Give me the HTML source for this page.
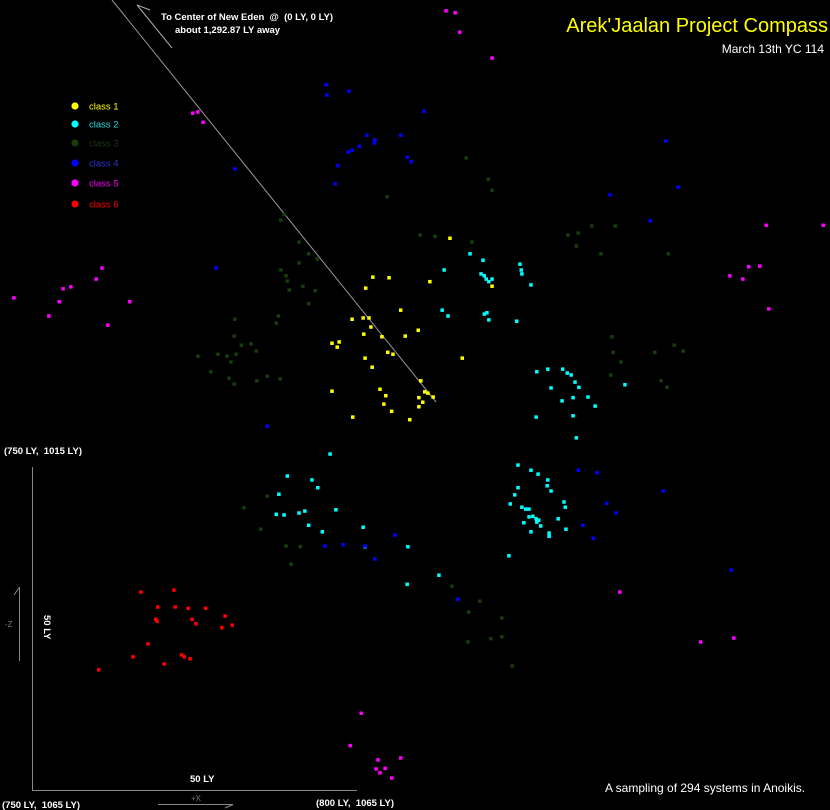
<!DOCTYPE html>
<html><head><meta charset="utf-8">
<style>
html,body{margin:0;padding:0;background:#000;}
svg{display:block;}
text{font-family:"Liberation Sans",sans-serif;white-space:pre;}
</style></head>
<body>
<svg id="chart" width="830" height="810" viewBox="0 0 830 810" xmlns="http://www.w3.org/2000/svg">
<rect x="0" y="0" width="830" height="810" fill="#000"/>
<line x1="112" y1="0" x2="436" y2="402" stroke="#9a9a9a" stroke-width="1"/>
<g stroke="#aaa" stroke-width="1" fill="none">
<line x1="137" y1="5" x2="172" y2="48"/><line x1="137" y1="5" x2="150" y2="10"/>
</g>
<text x="161" y="20" fill="#fff" font-size="9.5" font-weight="bold">To Center of New Eden  @  (0 LY, 0 LY)</text>
<text x="175" y="33" fill="#fff" font-size="9.5" font-weight="bold">about 1,292.87 LY away</text>
<text x="828" y="32" text-anchor="end" fill="#ffff00" font-size="20">Arek'Jaalan Project Compass</text>
<text x="824" y="53" text-anchor="end" fill="#fff" font-size="12">March 13th YC 114</text>
<g id="legend"></g>
<g stroke="#888" stroke-width="1">
<line x1="32.5" y1="467" x2="32.5" y2="790"/><line x1="32" y1="790.5" x2="357" y2="790.5"/>
<line x1="19.5" y1="587" x2="19.5" y2="661"/><line x1="14" y1="595" x2="19.5" y2="587"/>
<line x1="158" y1="804.5" x2="233" y2="804.5"/><line x1="225" y1="808" x2="233" y2="804.5"/>
</g>
<text x="4" y="454" fill="#fff" font-size="9.5" font-weight="bold">(750 LY,  1015 LY)</text>
<text x="2" y="808" fill="#fff" font-size="9.5" font-weight="bold">(750 LY,  1065 LY)</text>
<text x="316" y="806" fill="#fff" font-size="9.5" font-weight="bold">(800 LY,  1065 LY)</text>
<text x="190" y="782" fill="#fff" font-size="9.5" font-weight="bold">50 LY</text>
<text x="0" y="0" fill="#fff" font-size="9.5" font-weight="bold" transform="translate(44,615) rotate(90)">50 LY</text>
<text x="5" y="627" fill="#777" font-size="8">-Z</text>
<text x="191" y="801" fill="#777" font-size="8">+X</text>
<text x="605" y="792" fill="#fff" font-size="12">A sampling of 294 systems in Anoikis.</text>
<g id="points"></g>
</svg>
<script>
// Systems: x coordinate (LY) and z coordinate (LY) per wormhole class
const c1x=[802.6,805.1,801.5,806.9,799.4,801.1,802.0,802.3,801.2,797.4,796.3,797.1,804.0,807.6,809.6,804.9,805.7,801.4,802.5,796.3,803.7,804.6,804.3,805.5,799.5,808.3,809.7,810.6,814.5,811.4,821.0,816.4,810.0,811.1,811.9,810.3,809.7];
const c1z=[985.7,985.8,987.4,990.8,992.2,992.0,992.0,993.4,994.5,995.7,995.9,996.5,994.9,994.8,993.9,997.3,997.6,998.2,999.6,1003.3,1003.0,1004.0,1005.3,1006.4,1007.3,1007.7,1004.3,1003.4,979.7,986.4,987.1,998.2,1001.7,1003.6,1004.2,1005.0,1005.7];
const c2x=[817.6,819.6,813.6,819.3,819.8,820.1,821.0,820.5,825.3,825.5,825.6,827.0,813.3,814.2,819.8,820.2,820.5,824.8,827.9,829.6,831.9,832.6,833.2,833.8,834.4,830.1,831.8,833.5,835.8,833.5,836.9,827.8,841.5,834.0,825.0,827.0,825.0,824.5,823.8,825.6,826.2,826.7,828.1,829.6,829.5,830.1,832.1,832.3,826.7,827.3,827.8,828.2,827.9,831.2,825.9,828.5,829.8,827.0,832.4,829.8,823.6,812.8,796.0,789.4,788.1,793.2,794.1,787.7,788.9,791.2,792.1,796.9,792.7,794.8,801.1,801.4,808.0,807.9];
const c2z=[982.1,983.1,984.6,985.2,985.5,986.0,986.0,986.4,983.7,984.6,985.2,986.9,990.8,991.7,991.4,991.2,992.3,992.5,1000.3,999.9,999.9,1000.5,1000.8,1001.9,1002.7,1002.8,1004.8,1004.3,1004.2,1007.1,1005.6,1007.3,1002.3,1010.5,1014.7,1015.5,1018.2,1019.3,1020.7,1021.2,1021.5,1021.5,1016.1,1017.0,1017.9,1018.7,1020.4,1021.2,1022.7,1022.6,1023.0,1023.2,1023.5,1023.0,1023.6,1024.1,1025.2,1025.0,1024.6,1025.7,1028.7,1031.7,1013.0,1016.4,1019.2,1017.0,1018.2,1022.3,1022.4,1022.1,1021.8,1021.6,1024.0,1025.0,1024.3,1027.3,1027.3,1033.1];
const c3x=[788.9,788.4,791.2,792.7,794.0,791.2,788.4,789.2,789.4,789.7,791.8,793.7,792.7,788.0,787.7,781.3,781.2,782.3,783.8,784.6,780.1,781.5,780.7,775.6,778.7,777.6,780.4,781.2,784.7,786.3,788.3,804.8,817.0,820.4,821.0,809.9,812.2,817.9,832.7,834.3,836.4,840.0,837.8,848.2,834.0,839.5,839.7,840.9,846.1,849.1,850.5,839.3,847.1,848.0,786.3,782.7,785.3,789.2,791.4,790.0,814.8,819.1,817.4,822.5,817.3,820.8,822.5,824.1];
const c3z=[976.0,976.9,980.3,982.1,982.9,983.5,984.6,985.5,986.3,987.7,987.1,987.8,989.8,991.7,992.8,992.2,994.8,996.2,996.0,997.1,997.9,997.6,998.8,997.9,997.6,1000.3,1001.3,1002.2,1001.7,1001.0,1001.4,973.3,967.3,970.6,972.3,979.2,979.4,980.3,979.2,978.9,977.8,977.8,982.1,982.1,980.9,994.9,997.3,998.8,997.3,996.2,997.1,1000.8,1001.7,1002.7,1019.5,1021.3,1024.6,1027.2,1027.3,1030.0,1033.4,1035.7,1037.4,1038.3,1042.0,1041.5,1041.2,1045.7];
const c4x=[795.4,795.5,798.9,810.5,801.7,802.9,802.8,806.9,798.8,799.4,800.5,807.9,808.5,797.2,796.8,781.3,778.4,786.3,847.8,849.7,839.2,845.4,834.3,837.2,847.4,838.7,840.1,835.0,836.6,857.9,815.7,795.2,798.0,801.4,806.0,802.9];
const c4z=[956.0,957.6,957.0,960.1,963.8,964.5,965.0,963.8,966.4,966.1,965.5,967.2,967.9,968.5,971.3,969.0,984.3,1008.7,964.7,971.8,973.0,977.0,1015.5,1015.9,1018.7,1020.6,1022.1,1024.0,1026.0,1030.9,1035.4,1027.2,1027.0,1027.2,1025.5,1029.2];
const c5x=[774.8,775.6,776.4,813.9,815.3,816.0,821.0,747.2,754.8,756.0,754.2,752.6,759.9,760.8,765.1,761.7,863.3,872.1,860.6,862.3,857.7,859.7,863.7,840.7,853.2,858.3,800.8,799.1,803.4,803.1,804.5,803.7,805.5,806.9];
const c5z=[960.4,960.2,961.8,944.6,944.9,947.9,951.9,988.9,987.5,987.2,989.5,991.7,986.0,984.3,989.5,993.1,977.7,977.7,984.1,984.0,985.5,986.0,990.6,1034.3,1042.0,1041.4,1053.0,1058.0,1060.2,1061.6,1061.5,1062.2,1063.0,1059.9];
const c6x=[766.8,771.9,769.4,772.1,774.1,776.8,769.1,769.3,774.7,775.3,779.8,780.9,779.3,767.9,765.6,773.1,773.5,774.4,770.4,760.3];
const c6z=[1034.3,1034.0,1036.6,1036.6,1036.8,1036.8,1038.5,1038.8,1038.5,1039.2,1038.0,1039.4,1039.8,1042.3,1044.3,1044.0,1044.3,1044.6,1045.4,1046.3];
const classNames=["class 1","class 2","class 3","class 4","class 5","class 6"];
const classColors=["#ffff00","#00ffff","#183c0c","#0000ff","#ff00ff","#ff0000"];
const legendText=["#ffff00","#22dddd","#1c3a10","#3333cc","#ee00ee","#ff0000"];

// axis functions: 750..800 LY -> 32..356 px; 1015..1065 LY -> 467..791 px
const PX_PER_LY=6.48;
function xScale(v){return 32+(v-750)*PX_PER_LY;}
function zScale(v){return 467+(v-1015)*PX_PER_LY;}

const NS="http://www.w3.org/2000/svg";
const pts=document.getElementById('points');
const series=[[c1x,c1z],[c2x,c2z],[c3x,c3z],[c4x,c4z],[c5x,c5z],[c6x,c6z]];
series.forEach(function(s,ci){
  const g=document.createElementNS(NS,'g');
  
  
  for(let i=0;i<s[0].length;i++){
    const r=document.createElementNS(NS,'rect');
    
    
    r.setAttribute('x',(xScale(s[0][i])-1.75).toFixed(2));
    r.setAttribute('y',(zScale(s[1][i])-1.75).toFixed(2));
    r.setAttribute('width','3.5');
    r.setAttribute('height','3.5');
    r.setAttribute('fill',classColors[ci]);
    g.appendChild(r);
  }
  pts.appendChild(g);
});

const leg=document.getElementById('legend');
const legY=[106,124,143,163,183,204];
classNames.forEach(function(n,i){
  const c=document.createElementNS(NS,'circle');
  
  
  c.setAttribute('cx','75');
  c.setAttribute('cy',String(legY[i]));
  c.setAttribute('r','3.6');
  c.setAttribute('fill',classColors[i]);
  leg.appendChild(c);
  const t=document.createElementNS(NS,'text');
  
  
  t.setAttribute('x','89');
  t.setAttribute('y',String(legY[i]+3.5));
  t.setAttribute('font-size','9.5');
  t.setAttribute('fill',legendText[i]);
  t.textContent=n;
  leg.appendChild(t);
});
</script>
</body></html>
